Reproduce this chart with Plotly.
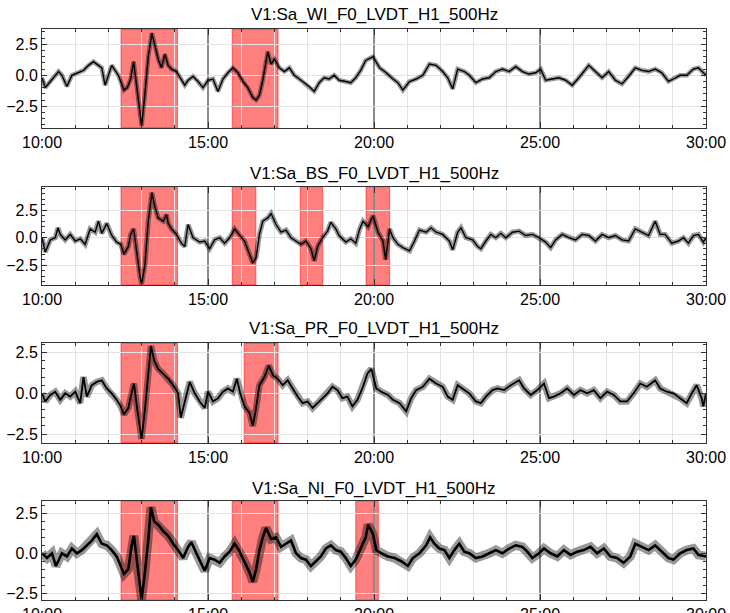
import plotly.graph_objects as go

# ---------------- data (minutes after the hour, values) ----------------
titles = ["V1:Sa_WI_F0_LVDT_H1_500Hz", "V1:Sa_BS_F0_LVDT_H1_500Hz",
          "V1:Sa_PR_F0_LVDT_H1_500Hz", "V1:Sa_NI_F0_LVDT_H1_500Hz"]

t_wi = [10.00, 10.10, 10.25, 10.40, 10.50, 10.60, 10.75, 10.90, 11.05, 11.25, 11.40, 11.55, 11.70, 11.80,
        11.90, 12.00, 12.10, 12.20, 12.30, 12.37, 12.47, 12.57, 12.67, 12.76, 12.85, 12.95, 13.00, 13.10,
        13.20, 13.31, 13.40, 13.50, 13.60, 13.70, 13.80, 13.90, 14.05, 14.20, 14.30, 14.40, 14.55, 14.70,
        14.85, 15.00, 15.15, 15.30, 15.45, 15.60, 15.75, 15.90, 16.05, 16.20, 16.35, 16.45, 16.55, 16.65,
        16.75, 16.80, 16.90, 17.00, 17.15, 17.30, 17.45, 17.60, 17.75, 17.90, 18.05, 18.20, 18.35, 18.50,
        18.65, 18.80, 18.95, 19.15, 19.30, 19.45, 19.60, 19.75, 19.97, 20.17, 20.37, 20.57, 20.72, 20.87,
        21.07, 21.27, 21.47, 21.67, 21.87, 22.07, 22.22, 22.37, 22.52, 22.72, 22.87, 23.07, 23.27, 23.47,
        23.67, 23.87, 24.07, 24.27, 24.47, 24.67, 24.87, 25.02, 25.17, 25.37, 25.57, 25.77, 25.97, 26.17,
        26.47, 26.67, 26.87, 27.07, 27.27, 27.47, 27.67, 27.87, 28.07, 28.27, 28.47, 28.67, 28.87, 29.02,
        29.22, 29.42, 29.62, 29.77, 30.00]
v_wi = [-0.2, -1.0, -0.5, 0.0, 0.3, 0.0, -0.9, 0.0, 0.2, 0.4, 0.8, 1.1, 0.8, 0.6,
        -0.8, 0.0, 0.8, 0.4, 0.0, -0.5, -1.2, -1.0, -0.3, 1.1, -1.0, -3.2, -4.1, -1.5,
        1.5, 3.4, 2.3, 1.3, 0.6, 1.7, 0.8, 0.5, 0.3, -0.3, -0.8, -0.4, -0.1, -0.5,
        -1.0, -0.4, -0.3, -1.3, -0.3, 0.2, 0.6, 0.2, -0.5, -1.0, -1.8, -2.0, -1.6, -0.4,
        1.1, 1.9, 0.9, 1.3, 0.6, 0.3, 0.6, 0.0, -0.3, -0.6, -0.9, -1.3, -0.6, -0.2,
        -0.3, 0.0, -0.4, -0.5, -0.6, -0.2, 0.4, 1.2, 1.5, 0.6, 0.2, -0.3, -0.6, -1.2,
        -0.5, -0.3, 0.0, 0.9, 0.8, 0.3, -0.2, -1.1, 0.5, 0.3, 0.0, -0.6, -0.3, -0.2,
        0.3, 0.5, 0.3, 0.7, 0.3, 0.1, 0.2, 0.5, -0.4, -0.3, -0.2, -0.4, -0.8, -0.2,
        0.8, 0.3, -0.2, 0.3, -0.4, -0.7, -0.1, 0.6, 0.4, 0.3, 0.5, 0.2, -0.5, -0.3,
        0.0, 0.0, 0.5, 0.6, 0.0]

t_bs = [10.00, 10.10, 10.25, 10.40, 10.48, 10.55, 10.70, 10.85, 11.00, 11.15, 11.30, 11.45, 11.60, 11.70,
        11.80, 11.95, 12.10, 12.25, 12.37, 12.47, 12.60, 12.67, 12.76, 12.85, 12.95, 13.00, 13.10, 13.20,
        13.31, 13.40, 13.50, 13.65, 13.75, 13.80, 13.90, 14.05, 14.20, 14.30, 14.40, 14.55, 14.75, 14.90,
        15.05, 15.20, 15.35, 15.50, 15.65, 15.80, 15.95, 16.10, 16.25, 16.35, 16.45, 16.55, 16.65, 16.80,
        16.90, 17.05, 17.20, 17.35, 17.50, 17.65, 17.80, 17.95, 18.10, 18.20, 18.30, 18.45, 18.60, 18.70,
        18.85, 18.95, 19.15, 19.30, 19.45, 19.57, 19.67, 19.82, 19.97, 20.12, 20.27, 20.35, 20.47, 20.57,
        20.72, 20.87, 21.07, 21.22, 21.37, 21.57, 21.72, 21.87, 22.07, 22.27, 22.37, 22.52, 22.62, 22.77,
        22.97, 23.12, 23.22, 23.37, 23.52, 23.67, 23.82, 23.97, 24.17, 24.37, 24.57, 24.77, 24.97, 25.17,
        25.32, 25.47, 25.67, 25.87, 26.07, 26.27, 26.47, 26.67, 26.87, 27.07, 27.27, 27.47, 27.67, 27.87,
        28.07, 28.27, 28.47, 28.62, 28.77, 28.97, 29.17, 29.32, 29.47, 29.62, 29.77, 29.92, 30.00]
v_bs = [0.0, -1.3, -0.2, 0.0, 0.9, 0.3, -0.2, 0.3, -0.3, -0.1, -0.6, 0.8, 0.5, 1.5,
        0.4, 1.3, 0.2, -0.4, -0.6, -1.5, -0.8, 0.3, 0.8, -1.5, -3.5, -4.2, -2.5, 1.5,
        4.1, 2.8, 1.8, 1.5, 2.1, 1.3, 0.8, 0.3, -0.5, -0.8, 1.2, 0.0, -0.4, -0.3,
        -1.0, -0.2, 0.0, -0.5, 0.0, 0.8, 0.2, -0.3, -1.5, -2.3, -1.8, 0.3, 1.5, 1.8,
        2.2, 1.2, 0.5, 0.7, 0.0, -0.3, -0.6, -0.3, -1.0, -2.1, -0.8, 0.0, 0.6, 1.4,
        0.8, 0.2, -0.4, -0.1, -0.5, 0.8, 1.5, 1.0, 2.0, 0.5, -0.3, -2.0, 0.8, 0.0,
        -0.6, -0.9, -1.2, -0.3, 0.7, 0.5, 0.9, 0.5, 0.3, -0.3, -1.1, 0.5, 0.9, 0.0,
        -0.2, -0.8, -1.0, -0.3, 0.3, 0.0, 0.4, 0.0, 0.5, 0.6, 0.2, 0.3, 0.0, -0.4,
        -0.9, -0.2, 0.3, 0.0, -0.2, 0.3, 0.2, -0.3, 0.3, 0.0, 0.2, -0.2, -0.3, 0.8,
        0.5, 0.2, 1.5, 0.3, 0.3, -0.5, -0.3, 0.0, -0.5, 0.2, 0.3, -0.4, 0.0]

t_pr = [10.00, 10.10, 10.25, 10.40, 10.55, 10.70, 10.85, 11.00, 11.15, 11.25, 11.35, 11.50, 11.65, 11.80,
        11.95, 12.10, 12.25, 12.37, 12.47, 12.60, 12.73, 12.77, 12.87, 12.95, 13.00, 13.10, 13.20, 13.28,
        13.38, 13.50, 13.65, 13.80, 13.95, 14.10, 14.18, 14.30, 14.45, 14.60, 14.75, 14.90, 15.00, 15.15,
        15.30, 15.45, 15.60, 15.75, 15.87, 15.97, 16.10, 16.25, 16.35, 16.44, 16.55, 16.70, 16.83, 16.96,
        17.10, 17.25, 17.40, 17.55, 17.70, 17.85, 18.00, 18.15, 18.30, 18.45, 18.60, 18.75, 18.90, 19.05,
        19.20, 19.35, 19.50, 19.65, 19.80, 19.92, 20.07, 20.22, 20.42, 20.57, 20.77, 20.97, 21.12, 21.27,
        21.47, 21.67, 21.87, 22.07, 22.22, 22.37, 22.52, 22.72, 22.87, 23.07, 23.22, 23.37, 23.57, 23.72,
        23.92, 24.12, 24.37, 24.52, 24.72, 24.92, 25.12, 25.27, 25.42, 25.62, 25.82, 26.02, 26.22, 26.42,
        26.62, 26.82, 27.02, 27.22, 27.42, 27.62, 27.82, 28.02, 28.22, 28.47, 28.62, 28.82, 29.02, 29.22,
        29.42, 29.57, 29.72, 29.87, 29.92, 30.00]
v_pr = [0.0, -0.5, -0.1, 0.1, -0.4, 0.0, -0.2, 0.1, -0.6, 1.0, -0.2, 0.5, 0.7, 0.8,
        0.3, 0.0, -0.4, -0.8, -1.3, -0.9, 0.3, 0.6, -1.0, -2.3, -2.8, -1.0, 1.0, 2.9,
        2.0, 1.5, 1.2, 0.9, 0.5, 0.0, -1.5, -0.5, 0.7, 0.0, -0.5, -0.9, 0.1, -0.5,
        -0.3, 0.1, 0.3, 0.1, 0.9, 0.0, -0.8, -1.2, -2.0, -1.0, 0.5, 1.0, 1.7, 1.1,
        0.9, 0.5, 0.8, 0.3, -0.2, -0.6, -0.5, -0.9, -0.6, -0.3, 0.0, 0.4, 0.2, -0.3,
        -0.2, -0.8, -0.4, 0.3, 1.2, 1.5, 0.3, 0.1, -0.1, -0.4, -0.6, -1.1, -0.3, 0.2,
        0.4, 0.9, 0.6, 0.4, -0.2, -0.4, 0.5, 0.2, 0.0, -0.5, -0.6, -0.2, 0.2, 0.3,
        0.2, 0.5, 0.8, 0.3, -0.1, 0.2, 0.6, -0.3, -0.2, 0.0, 0.3, -0.1, 0.2, 0.0,
        0.2, -0.3, 0.1, -0.1, -0.5, -0.5, 0.0, 0.6, 0.4, 0.8, 0.3, 0.1, 0.0, -0.3,
        -0.6, 0.0, 0.5, -0.3, -0.8, 0.0]

t_ni = [10.00, 10.15, 10.30, 10.42, 10.60, 10.75, 10.90, 11.05, 11.20, 11.35, 11.50, 11.65, 11.80, 11.95,
        12.10, 12.25, 12.37, 12.47, 12.60, 12.70, 12.77, 12.87, 12.95, 13.00, 13.10, 13.20, 13.28, 13.38,
        13.50, 13.65, 13.80, 13.95, 14.10, 14.25, 14.40, 14.50, 14.65, 14.80, 14.90, 15.05, 15.20, 15.35,
        15.50, 15.65, 15.80, 15.93, 16.10, 16.25, 16.35, 16.45, 16.55, 16.65, 16.75, 16.90, 17.05, 17.20,
        17.35, 17.50, 17.65, 17.80, 17.95, 18.10, 18.25, 18.40, 18.55, 18.70, 18.85, 19.00, 19.15, 19.30,
        19.45, 19.60, 19.75, 19.82, 19.97, 20.07, 20.22, 20.42, 20.62, 20.82, 21.02, 21.17, 21.37, 21.57,
        21.69, 21.82, 21.97, 22.12, 22.27, 22.42, 22.57, 22.72, 22.87, 23.07, 23.27, 23.47, 23.67, 23.87,
        24.07, 24.27, 24.47, 24.62, 24.77, 24.97, 25.12, 25.32, 25.52, 25.72, 25.92, 26.12, 26.32, 26.52,
        26.72, 26.92, 27.12, 27.32, 27.52, 27.72, 27.87, 28.07, 28.27, 28.47, 28.67, 28.87, 29.02, 29.22,
        29.42, 29.62, 29.77, 30.00]
v_ni = [0.0, -0.3, 0.0, -0.8, 0.0, -0.2, 0.3, 0.0, 0.2, 0.5, 0.8, 1.2, 0.6, 0.5,
        0.2, -0.2, -0.8, -1.3, -1.0, 0.5, 1.1, -0.8, -2.3, -2.9, -1.2, 0.8, 2.9, 2.0,
        1.8, 1.4, 1.1, 0.6, 0.2, -0.3, 0.4, 0.7, 0.0, -0.6, -1.1, -0.3, -0.4, -0.6,
        -0.2, 0.1, 0.6, 0.2, -0.5, -1.2, -1.8, -1.0, 0.2, 1.0, 1.6, 0.9, 1.0, 0.4,
        0.6, 0.8, 0.0, -0.3, -0.4, -0.8, -0.5, -0.2, 0.3, 0.5, 0.2, 0.1, -0.3, -0.8,
        -0.4, 0.3, 1.0, 1.8, 1.2, 0.2, 0.0, -0.2, -0.3, -0.5, -0.8, -0.3, 0.0, 0.5,
        1.0, 0.6, 0.3, 0.2, -0.3, 0.2, 0.6, 0.1, 0.0, -0.3, -0.2, 0.0, 0.2, 0.0,
        0.3, 0.5, 0.4, 0.1, -0.3, 0.0, 0.3, 0.0, -0.2, 0.2, -0.1, 0.1, 0.2, 0.4,
        0.0, 0.3, -0.2, -0.3, -0.6, -0.2, 0.6, 0.4, 0.2, 0.5, 0.1, -0.3, -0.4, 0.0,
        0.2, 0.3, -0.1, -0.2]

# highlighted intervals (start, end) in minutes
spans_wi = [(12.38, 14.08), (15.73, 17.11)]
spans_bs = [(12.38, 14.08), (15.73, 16.44), (17.78, 18.45), (19.76, 20.47)]
spans_pr = [(12.38, 14.08), (16.09, 17.11)]
spans_ni = [(12.38, 14.08), (15.73, 17.11), (19.45, 20.13)]

x_tick_vals = [10, 15, 20, 25, 30]
x_tick_text = ["10:00", "15:00", "20:00", "25:00", "30:00"]
y_tick_vals = [-2.5, 0.0, 2.5]
y_tick_text = ["\u22122.5", "0.0", "2.5"]

# ---------------- layout geometry ----------------
W, H = 730, 613
x_dom = [42 / W, 706 / W]
y_px = [(29.3, 127.7), (186.7, 285.0), (343.3, 442.7), (501.0, 600.0)]
y_ranges = [(-4.23, 3.71), (-4.3, 4.64), (-3.03, 3.07), (-2.94, 3.29)]
title_y_px = [14, 173, 328, 488]
halo_w = [4.5, 5, 6.5, 9]
core_w = [1.4, 1.4, 1.8, 2.6]

series = [(t_wi, v_wi, spans_wi), (t_bs, v_bs, spans_bs),
          (t_pr, v_pr, spans_pr), (t_ni, v_ni, spans_ni)]

FONT = "Liberation Sans, Arial, sans-serif"
fig = go.Figure()
layout = dict(width=W, height=H, autosize=False,
              margin=dict(l=0, r=0, t=0, b=0, pad=0, autoexpand=False),
              paper_bgcolor="white", plot_bgcolor="white", showlegend=False,
              font=dict(family=FONT, size=16, color="black"))
shapes, annotations = [], []

for i, (t, v, spans) in enumerate(series):
    k = i + 1
    sfx = str(k) if k > 1 else ""
    xa, ya = "x" + sfx, "y" + sfx
    dom_y = [1 - y_px[i][1] / H, 1 - y_px[i][0] / H]

    fig.add_trace(go.Scatter(x=t, y=v, mode="lines", xaxis=xa, yaxis=ya,
                             line=dict(color="rgba(0,0,0,0.4)", width=halo_w[i]),
                             hoverinfo="skip"))
    fig.add_trace(go.Scatter(x=t, y=v, mode="lines", xaxis=xa, yaxis=ya,
                             line=dict(color="black", width=core_w[i]), hoverinfo="skip"))

    layout["xaxis" + sfx] = dict(
        domain=x_dom, anchor=ya, range=[10, 30], automargin=False,
        tickmode="array", tickvals=x_tick_vals, ticktext=x_tick_text,
        showgrid=True, gridcolor="#8c8c8c", gridwidth=1.5,
        ticks="inside", ticklen=6, tickcolor="#333", tickwidth=1,
        minor=dict(ticks="inside", ticklen=3, dtick=1, tick0=10, tickcolor="#333",
                   showgrid=True, gridcolor="#e3e3e3", gridwidth=1),
        showline=True, linecolor="#333", linewidth=1, mirror="ticks",
        zeroline=False, tickfont=dict(size=16, family=FONT, color="black"))
    layout["yaxis" + sfx] = dict(
        domain=dom_y, anchor=xa, range=list(y_ranges[i]), automargin=False,
        tickmode="array", tickvals=y_tick_vals, ticktext=y_tick_text,
        showgrid=True, gridcolor="#e3e3e3", gridwidth=1,
        ticks="inside", ticklen=5, tickcolor="#333",
        minor=dict(ticks="inside", ticklen=3, dtick=0.5, tick0=0, tickcolor="#333", showgrid=False),
        showline=True, linecolor="#333", linewidth=1, mirror="ticks",
        zeroline=False, tickfont=dict(size=16, family=FONT, color="black"))

    for (a, b) in spans:
        shapes.append(dict(type="rect", xref=xa, yref="paper", x0=a, x1=b,
                           y0=dom_y[0], y1=dom_y[1],
                           fillcolor="rgba(255,0,0,0.5)",
                           line=dict(color="rgba(255,0,0,0.45)", width=1.2),
                           layer="below"))

    annotations.append(dict(text=titles[i], xref="paper", yref="paper", x=374 / W, y=1 - title_y_px[i] / H,
                            xanchor="center", yanchor="middle", showarrow=False,
                            font=dict(size=17, family=FONT, color="black")))

layout["shapes"] = shapes
layout["annotations"] = annotations
fig.update_layout(**layout)
fig.write_html("out.html", config={"displayModeBar": False},
               post_script="document.body.style.margin='0px';")
